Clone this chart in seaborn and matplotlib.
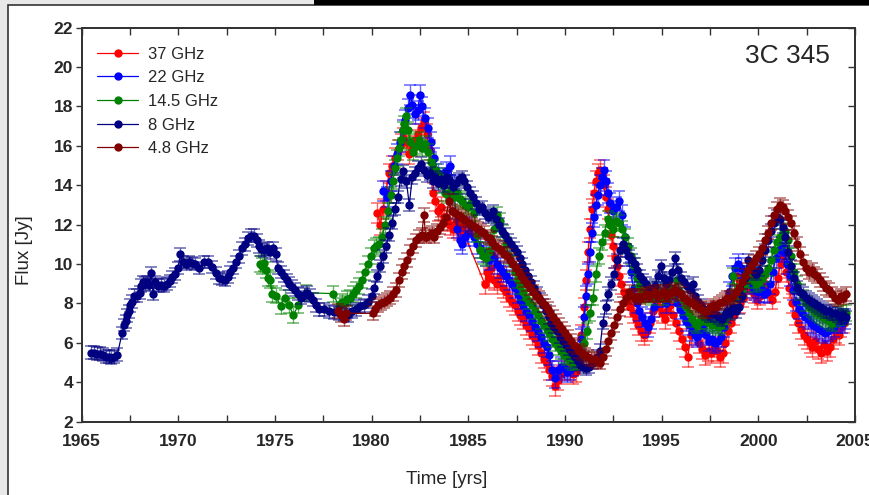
import matplotlib
matplotlib.use("Agg")
import matplotlib.pyplot as plt
from matplotlib.lines import Line2D
from matplotlib.patches import Rectangle
from matplotlib.ticker import MultipleLocator
import seaborn as sns

# ---- data ----
bands = ["37 GHz", "22 GHz", "14.5 GHz", "8 GHz", "4.8 GHz"]
colors = ["#ff0000", "#0000ff", "#008000", "#000080", "#800000"]
typical_err = [0.50, 0.50, 0.40, 0.32, 0.35]   # Jy

year_37 = [1980.30, 1980.45, 1980.60, 1980.75, 1980.90, 1981.05, 1981.20, 1981.35, 1981.50, 1981.65,
           1981.80, 1981.95, 1982.10, 1982.25, 1982.40, 1982.55, 1982.70, 1982.85, 1983.00, 1983.15,
           1983.30, 1983.45, 1983.60, 1983.75, 1983.90, 1984.05, 1984.20, 1984.35, 1984.50, 1984.65,
           1984.80, 1985.85, 1985.95, 1986.05, 1986.20, 1986.35, 1986.50, 1986.65, 1986.80, 1986.95,
           1987.10, 1987.25, 1987.40, 1987.55, 1987.70, 1987.85, 1988.00, 1988.15, 1988.30, 1988.45,
           1988.60, 1988.75, 1988.90, 1989.05, 1989.20, 1989.35, 1989.50, 1989.65, 1989.80, 1989.95,
           1990.10, 1990.25, 1990.40, 1990.55, 1990.70, 1990.85, 1991.00, 1991.10, 1991.20, 1991.30,
           1991.40, 1991.50, 1991.60, 1991.70, 1991.80, 1991.90, 1992.00, 1992.10, 1992.20, 1992.30,
           1992.40, 1992.50, 1992.60, 1992.70, 1992.80, 1992.90, 1993.05, 1993.20, 1993.35, 1993.50,
           1993.65, 1993.80, 1993.95, 1994.10, 1994.25, 1994.40, 1994.55, 1994.70, 1994.85, 1995.00,
           1995.15, 1995.30, 1995.45, 1995.60, 1995.75, 1995.90, 1996.05, 1996.20, 1996.35, 1996.50,
           1996.65, 1996.80, 1996.95, 1997.10, 1997.25, 1997.40, 1997.55, 1997.70, 1997.85, 1998.00,
           1998.15, 1998.30, 1998.45, 1998.60, 1998.75, 1998.90, 1999.05, 1999.20, 1999.35, 1999.50,
           1999.65, 1999.80, 1999.95, 2000.10, 2000.25, 2000.40, 2000.55, 2000.70, 2000.85, 2001.00,
           2001.15, 2001.30, 2001.45, 2001.60, 2001.75, 2001.90, 2002.05, 2002.20, 2002.35, 2002.50,
           2002.65, 2002.80, 2002.95, 2003.10, 2003.25, 2003.40, 2003.55, 2003.70, 2003.85, 2004.00,
           2004.15, 2004.30, 2004.45]
flux_37 = [12.6, 12.0, 12.8, 13.7, 14.6, 15.0, 15.4, 15.8, 16.1, 16.4,
           16.2, 15.6, 16.0, 16.3, 16.6, 16.9, 17.2, 16.6, 15.8, 13.6,
           13.2, 12.7, 12.9, 12.4, 12.2, 12.0, 11.8, 12.1, 11.7, 11.9,
           11.5, 9.0, 9.6, 9.3, 9.8, 9.2, 9.0, 9.4, 8.8, 8.6,
           8.3, 8.1, 7.9, 7.6, 7.4, 7.2, 6.9, 6.7, 6.4, 6.2,
           5.9, 5.5, 5.2, 5.0, 4.6, 4.3, 3.8, 4.1, 4.4, 4.6,
           4.8, 4.6, 4.4, 4.5, 5.2, 6.4, 7.8, 9.2, 10.6, 11.8,
           12.8, 13.6, 14.2, 14.6, 14.8, 14.4, 14.0, 13.4, 12.8, 12.2,
           11.5, 10.9, 10.3, 9.9, 9.4, 9.0, 8.6, 8.2, 7.8, 7.5,
           7.2, 6.9, 6.6, 6.4, 6.6, 7.0, 7.6, 8.1, 7.8, 7.5,
           7.2, 7.6, 7.9, 7.4, 7.0, 6.6, 6.2, 5.8, 5.3, 6.4,
           6.8, 6.5, 6.0, 5.7, 5.4, 5.6, 5.5, 5.8, 5.6, 5.3,
           5.5, 6.0, 6.6, 7.0, 7.4, 9.4, 8.0, 8.3, 8.7, 9.0,
           8.8, 8.5, 8.2, 8.4, 8.8, 9.0, 8.5, 8.2, 8.6, 9.3,
           10.0, 10.4, 9.6, 8.8, 8.0, 7.4, 7.0, 6.7, 6.4, 6.2,
           6.0, 5.8, 6.1, 5.7, 5.5, 5.9, 5.6, 5.8, 6.2, 6.5,
           6.4, 6.8, 7.0]

year_22 = [1980.60, 1980.80, 1981.00, 1981.15, 1981.30, 1981.45, 1981.60, 1981.75, 1981.90, 1982.00,
           1982.10, 1982.25, 1982.40, 1982.50, 1982.60, 1982.75, 1982.90, 1983.05, 1983.25, 1983.45,
           1983.65, 1983.85, 1984.05, 1984.25, 1984.40, 1984.55, 1984.70, 1984.85, 1985.00, 1985.15,
           1985.30, 1985.45, 1985.60, 1985.75, 1985.90, 1986.05, 1986.20, 1986.35, 1986.50, 1986.65,
           1986.80, 1986.95, 1987.10, 1987.25, 1987.40, 1987.55, 1987.70, 1987.85, 1988.00, 1988.15,
           1988.30, 1988.45, 1988.60, 1988.75, 1988.90, 1989.05, 1989.20, 1989.35, 1989.50, 1989.65,
           1989.80, 1989.95, 1990.10, 1990.25, 1990.40, 1990.55, 1990.70, 1990.85, 1991.00, 1991.10,
           1991.20, 1991.30, 1991.40, 1991.50, 1991.60, 1991.70, 1991.80, 1991.90, 1992.00, 1992.10,
           1992.20, 1992.35, 1992.50, 1992.65, 1992.80, 1992.95, 1993.10, 1993.25, 1993.40, 1993.55,
           1993.70, 1993.85, 1994.00, 1994.15, 1994.30, 1994.45, 1994.60, 1994.75, 1994.90, 1995.05,
           1995.20, 1995.35, 1995.50, 1995.65, 1995.80, 1995.95, 1996.10, 1996.25, 1996.40, 1996.55,
           1996.70, 1996.85, 1997.00, 1997.15, 1997.30, 1997.45, 1997.60, 1997.75, 1997.90, 1998.05,
           1998.20, 1998.35, 1998.50, 1998.65, 1998.80, 1998.95, 1999.10, 1999.25, 1999.40, 1999.55,
           1999.70, 1999.85, 2000.00, 2000.15, 2000.30, 2000.45, 2000.60, 2000.75, 2000.90, 2001.05,
           2001.20, 2001.35, 2001.50, 2001.65, 2001.80, 2001.95, 2002.10, 2002.25, 2002.40, 2002.55,
           2002.70, 2002.85, 2003.00, 2003.15, 2003.30, 2003.45, 2003.60, 2003.75, 2003.90, 2004.05,
           2004.20, 2004.35, 2004.50]
flux_22 = [13.7, 13.4, 14.2, 15.0, 15.6, 16.2, 16.8, 17.3, 17.9, 18.6,
           18.1, 17.6, 17.8, 18.6, 18.0, 17.4, 16.9, 16.2, 15.4, 14.6,
           14.4, 14.7, 15.0, 14.0, 11.8, 11.2, 11.0, 11.4, 11.6, 11.9,
           11.4, 11.0, 10.8, 10.6, 10.4, 10.2, 10.5, 10.3, 10.0, 9.8,
           9.6, 9.4, 9.2, 9.0, 8.8, 8.5, 8.2, 7.9, 7.6, 7.4,
           7.1, 6.8, 6.6, 6.3, 6.0, 5.8, 5.4, 4.6, 4.2, 4.6,
           4.8, 4.7, 4.5, 4.6, 4.8, 5.1, 5.4, 6.2, 7.3, 8.4,
           9.5, 10.6, 11.6, 12.4, 13.0, 13.5, 14.0, 14.4, 14.8, 14.2,
           13.6, 13.1, 12.7, 12.9, 13.2, 12.5, 11.4, 10.4, 9.6, 8.8,
           8.0, 7.6, 7.3, 7.0, 6.8, 7.2, 7.8, 8.3, 8.6, 8.3,
           8.0, 8.4, 8.7, 8.4, 8.0, 7.7, 7.4, 7.1, 6.9, 6.6,
           6.4, 6.3, 6.5, 6.8, 6.4, 6.1, 6.2, 6.0, 6.1, 6.3,
           6.8, 7.5, 8.6, 9.4, 9.8, 10.0, 9.8, 9.4, 9.1, 9.0,
           8.8, 8.7, 8.6, 8.8, 8.5, 8.6, 9.0, 9.6, 10.3, 10.7,
           10.9, 10.6, 10.0, 9.4, 8.7, 8.1, 7.7, 7.5, 7.3, 7.2,
           7.0, 6.9, 6.8, 6.7, 6.6, 6.5, 6.6, 6.7, 6.8, 7.0,
           7.1, 7.0, 7.2]

year_14 = [1974.25, 1974.35, 1974.45, 1974.55, 1974.65, 1974.75, 1974.85, 1975.05, 1975.30, 1975.50,
           1975.75, 1975.95, 1976.20, 1976.60, 1978.00, 1978.30, 1978.45, 1978.60, 1978.75, 1978.90,
           1979.05, 1979.20, 1979.35, 1979.50, 1979.65, 1979.80, 1979.95, 1980.10, 1980.25, 1980.40,
           1980.55, 1980.70, 1980.85, 1981.00, 1981.10, 1981.20, 1981.30, 1981.40, 1981.50, 1981.60,
           1981.70, 1981.80, 1981.90, 1982.00, 1982.15, 1982.30, 1982.45, 1982.60, 1982.75, 1982.90,
           1983.05, 1983.20, 1983.35, 1983.50, 1983.65, 1983.80, 1983.95, 1984.10, 1984.25, 1984.40,
           1984.55, 1984.70, 1984.85, 1985.00, 1985.15, 1985.30, 1985.45, 1985.60, 1985.75, 1985.90,
           1986.05, 1986.20, 1986.35, 1986.50, 1986.65, 1986.80, 1986.95, 1987.10, 1987.25, 1987.40,
           1987.55, 1987.70, 1987.85, 1988.00, 1988.15, 1988.30, 1988.45, 1988.60, 1988.75, 1988.90,
           1989.05, 1989.20, 1989.35, 1989.50, 1989.65, 1989.80, 1989.95, 1990.10, 1990.25, 1990.40,
           1990.55, 1990.70, 1990.85, 1991.00, 1991.15, 1991.30, 1991.45, 1991.60, 1991.75, 1991.90,
           1992.05, 1992.20, 1992.35, 1992.50, 1992.65, 1992.80, 1992.95, 1993.10, 1993.25, 1993.40,
           1993.55, 1993.70, 1993.85, 1994.00, 1994.15, 1994.30, 1994.45, 1994.60, 1994.75, 1994.90,
           1995.05, 1995.20, 1995.35, 1995.50, 1995.65, 1995.80, 1995.95, 1996.10, 1996.25, 1996.40,
           1996.55, 1996.70, 1996.85, 1997.00, 1997.15, 1997.30, 1997.45, 1997.60, 1997.75, 1997.90,
           1998.05, 1998.20, 1998.35, 1998.50, 1998.70, 1998.85, 1999.00, 1999.15, 1999.30, 1999.45,
           1999.60, 1999.75, 1999.90, 2000.05, 2000.20, 2000.35, 2000.50, 2000.65, 2000.80, 2000.95,
           2001.10, 2001.25, 2001.40, 2001.55, 2001.70, 2001.85, 2002.00, 2002.15, 2002.30, 2002.45,
           2002.60, 2002.75, 2002.90, 2003.05, 2003.20, 2003.35, 2003.50, 2003.65, 2003.80, 2003.95,
           2004.10, 2004.25, 2004.40, 2004.55]
flux_14 = [10.0, 9.9, 10.05, 9.7, 9.3, 9.2, 8.5, 8.4, 7.85, 8.3,
           7.9, 7.4, 7.9, 8.55, 8.5, 7.9, 8.1, 8.0, 8.25, 8.3,
           8.5, 8.7, 8.9, 9.2, 9.6, 10.0, 10.4, 10.8, 10.9, 11.0,
           11.4, 12.0, 12.7, 13.5, 14.2, 14.9, 15.4, 15.9, 16.3, 16.8,
           17.1, 17.5, 16.8, 16.2, 15.7, 16.0, 16.3, 15.9, 16.1, 15.7,
           15.2, 14.9, 14.7, 14.5, 14.0, 13.6, 13.5, 13.8, 13.4, 13.6,
           13.3, 13.2, 13.0, 12.9, 13.1, 12.6, 11.5, 10.7, 10.4, 10.3,
           10.6, 11.2, 11.8, 12.5, 12.2, 11.6, 11.0, 10.4, 10.0, 9.6,
           9.2, 8.9, 8.6, 8.3, 8.1, 7.9, 7.6, 7.4, 7.1, 6.9,
           6.7, 6.5, 6.2, 6.0, 5.8, 5.6, 5.4, 5.3, 5.1, 5.0,
           5.0, 5.1, 5.5, 6.0, 6.6, 7.5, 8.3, 9.5, 10.4, 11.1,
           11.6, 12.3, 12.0, 11.8, 12.2, 12.1, 11.8, 11.4, 10.9, 10.4,
           9.9, 9.3, 8.9, 8.6, 8.4, 8.5, 8.3, 8.5, 8.7, 8.5,
           8.3, 8.6, 8.9, 8.5, 8.7, 9.2, 8.6, 8.2, 7.8, 7.5,
           7.2, 7.0, 6.9, 7.1, 7.3, 7.1, 7.0, 6.9, 7.0, 6.8,
           6.9, 7.1, 7.3, 7.6, 9.4, 8.3, 8.6, 8.8, 9.0, 9.2,
           9.4, 9.2, 9.0, 9.1, 9.3, 9.5, 9.8, 10.2, 10.7, 11.1,
           11.4, 11.6, 11.7, 11.2, 10.4, 9.6, 9.0, 8.6, 8.3, 8.0,
           7.8, 7.7, 7.6, 7.5, 7.4, 7.3, 7.2, 7.1, 7.0, 7.2,
           7.4, 7.5, 7.3, 7.5]

year_8 = [1965.50, 1965.65, 1965.80, 1965.95, 1966.10, 1966.25, 1966.40, 1966.55, 1966.70, 1966.85,
          1967.10, 1967.20, 1967.28, 1967.36, 1967.44, 1967.52, 1967.60, 1967.70, 1967.85, 1968.00,
          1968.10, 1968.20, 1968.30, 1968.40, 1968.50, 1968.60, 1968.70, 1968.80, 1968.95, 1969.10,
          1969.25, 1969.40, 1969.55, 1969.70, 1969.85, 1970.00, 1970.10, 1970.25, 1970.40, 1970.55,
          1970.70, 1970.85, 1971.10, 1971.35, 1971.55, 1971.75, 1971.95, 1972.10, 1972.25, 1972.40,
          1972.55, 1972.70, 1972.85, 1973.00, 1973.15, 1973.30, 1973.45, 1973.60, 1973.75, 1973.90,
          1974.10, 1974.20, 1974.30, 1974.45, 1974.60, 1974.75, 1974.90, 1975.05, 1975.15, 1975.30,
          1975.45, 1975.60, 1975.75, 1975.90, 1976.05, 1976.20, 1976.35, 1976.50, 1976.65, 1976.80,
          1976.95, 1977.10, 1977.30, 1977.55, 1977.80, 1978.05, 1978.30, 1978.55, 1978.80, 1979.00,
          1979.20, 1979.40, 1979.60, 1979.80, 1980.00, 1980.15, 1980.30, 1980.45, 1980.60, 1980.75,
          1980.90, 1981.05, 1981.20, 1981.35, 1981.50, 1981.65, 1981.80, 1981.95, 1982.10, 1982.25,
          1982.40, 1982.55, 1982.70, 1982.85, 1983.00, 1983.15, 1983.30, 1983.45, 1983.60, 1983.75,
          1983.90, 1984.05, 1984.20, 1984.35, 1984.50, 1984.65, 1984.80, 1984.95, 1985.10, 1985.25,
          1985.40, 1985.55, 1985.70, 1985.85, 1986.00, 1986.15, 1986.30, 1986.45, 1986.60, 1986.75,
          1986.90, 1987.05, 1987.20, 1987.35, 1987.50, 1987.65, 1987.80, 1987.95, 1988.10, 1988.25,
          1988.40, 1988.55, 1988.70, 1988.85, 1989.00, 1989.15, 1989.30, 1989.45, 1989.60, 1989.75,
          1989.90, 1990.05, 1990.20, 1990.35, 1990.50, 1990.65, 1990.80, 1990.95, 1991.10, 1991.25,
          1991.45, 1991.65, 1991.80, 1991.95, 1992.10, 1992.25, 1992.40, 1992.55, 1992.70, 1992.85,
          1993.00, 1993.15, 1993.30, 1993.45, 1993.60, 1993.75, 1993.90, 1994.05, 1994.20, 1994.35,
          1994.50, 1994.65, 1994.80, 1994.95, 1995.10, 1995.25, 1995.40, 1995.55, 1995.70, 1995.85,
          1996.00, 1996.15, 1996.30, 1996.45, 1996.60, 1996.75, 1996.90, 1997.05, 1997.20, 1997.35,
          1997.50, 1997.65, 1997.80, 1997.95, 1998.10, 1998.25, 1998.40, 1998.55, 1998.70, 1998.85,
          1999.00, 1999.15, 1999.30, 1999.45, 1999.60, 1999.75, 1999.90, 2000.05, 2000.20, 2000.35,
          2000.50, 2000.65, 2000.80, 2000.95, 2001.10, 2001.25, 2001.40, 2001.55, 2001.70, 2001.85,
          2002.00, 2002.15, 2002.30, 2002.45, 2002.60, 2002.75, 2002.90, 2003.05, 2003.20, 2003.35,
          2003.50, 2003.65, 2003.80, 2003.95, 2004.10, 2004.25, 2004.40, 2004.55]
flux_8 = [5.50, 5.50, 5.45, 5.45, 5.40, 5.30, 5.30, 5.25, 5.30, 5.40,
          6.50, 6.90, 7.10, 7.40, 7.60, 7.90, 8.10, 8.40, 8.40, 8.55,
          8.90, 9.10, 9.00, 9.10, 8.95, 9.55, 8.50, 9.10, 8.90, 8.95,
          8.90, 9.00, 9.15, 9.35, 9.50, 9.80, 10.50, 10.10, 10.00, 10.10,
          10.05, 10.00, 9.80, 10.10, 10.10, 9.85, 9.55, 9.30, 9.25, 9.20,
          9.35, 9.60, 9.80, 10.10, 10.40, 10.80, 11.00, 11.30, 11.45, 11.45,
          11.20, 10.90, 10.75, 10.70, 10.80, 10.60, 10.80, 10.50, 9.80, 9.60,
          9.40, 9.20, 9.00, 8.85, 8.70, 8.50, 8.30, 8.45, 8.55, 8.40,
          8.20, 7.90, 7.70, 7.70, 7.60, 7.55, 7.50, 7.45, 7.40, 7.60,
          7.70, 7.85, 7.90, 8.10, 8.40, 8.80, 9.40, 9.90, 10.40, 10.90,
          11.50, 12.10, 12.80, 13.40, 14.30, 14.70, 14.20, 13.00, 14.40, 14.60,
          14.90, 15.10, 14.80, 14.50, 14.60, 14.20, 14.40, 14.10, 14.30, 14.00,
          14.40, 14.20, 13.90, 14.10, 14.30, 14.40, 14.20, 13.90, 13.60, 13.40,
          13.10, 12.80, 12.90, 12.60, 12.40, 12.50, 12.70, 12.30, 12.00, 11.70,
          11.50, 11.20, 11.00, 10.80, 10.60, 10.30, 10.00, 9.70, 9.40, 9.10,
          8.80, 8.50, 8.20, 7.90, 7.60, 7.30, 7.00, 6.80, 6.60, 6.30,
          6.10, 5.90, 5.70, 5.50, 5.30, 5.10, 4.90, 4.80, 4.70, 4.80,
          5.00, 5.30, 5.60, 7.00, 7.80, 8.50, 9.00, 9.50, 10.20, 10.70,
          11.00, 10.70, 10.40, 10.20, 10.00, 9.70, 9.40, 9.20, 9.00, 8.80,
          8.70, 8.90, 9.40, 9.90, 9.30, 9.00, 9.20, 9.60, 10.30, 9.70,
          9.30, 9.10, 8.90, 8.70, 9.00, 8.40, 8.10, 7.90, 7.70, 7.50,
          7.40, 7.50, 7.40, 7.30, 7.20, 7.40, 7.60, 7.50, 7.80, 7.60,
          7.80, 8.40, 9.30, 10.20, 9.90, 9.60, 9.50, 9.70, 10.20, 10.70,
          11.20, 11.70, 12.10, 12.40, 12.30, 11.90, 11.40, 10.60, 9.90, 9.30,
          8.80, 8.60, 8.50, 8.30, 8.20, 8.10, 8.00, 7.90, 7.80, 7.70,
          7.60, 7.60, 7.50, 7.50, 7.40, 7.30, 7.40, 7.30]

year_48 = [1978.25, 1978.40, 1978.55, 1978.70, 1980.05, 1980.20, 1980.35, 1980.50, 1980.65, 1980.80,
           1980.95, 1981.10, 1981.25, 1981.40, 1981.55, 1981.70, 1981.85, 1982.00, 1982.15, 1982.30,
           1982.45, 1982.60, 1982.70, 1982.80, 1982.95, 1983.10, 1983.25, 1983.40, 1983.55, 1983.70,
           1983.85, 1984.00, 1984.15, 1984.30, 1984.45, 1984.60, 1984.75, 1984.90, 1985.05, 1985.20,
           1985.35, 1985.50, 1985.65, 1985.80, 1985.95, 1986.10, 1986.25, 1986.40, 1986.55, 1986.70,
           1986.85, 1987.00, 1987.15, 1987.30, 1987.45, 1987.60, 1987.75, 1987.90, 1988.05, 1988.20,
           1988.35, 1988.50, 1988.65, 1988.80, 1988.95, 1989.10, 1989.25, 1989.40, 1989.55, 1989.70,
           1989.85, 1990.00, 1990.15, 1990.30, 1990.45, 1990.60, 1990.75, 1990.90, 1991.05, 1991.20,
           1991.35, 1991.50, 1991.65, 1991.80, 1991.95, 1992.10, 1992.25, 1992.40, 1992.55, 1992.70,
           1992.85, 1993.00, 1993.15, 1993.30, 1993.45, 1993.60, 1993.75, 1993.90, 1994.05, 1994.20,
           1994.35, 1994.50, 1994.65, 1994.80, 1994.95, 1995.10, 1995.25, 1995.40, 1995.55, 1995.70,
           1995.85, 1996.00, 1996.15, 1996.30, 1996.45, 1996.60, 1996.75, 1996.90, 1997.05, 1997.20,
           1997.35, 1997.50, 1997.65, 1997.80, 1997.95, 1998.10, 1998.25, 1998.40, 1998.55, 1998.70,
           1998.85, 1999.00, 1999.15, 1999.30, 1999.45, 1999.60, 1999.75, 1999.90, 2000.05, 2000.20,
           2000.35, 2000.50, 2000.65, 2000.80, 2000.95, 2001.10, 2001.25, 2001.40, 2001.55, 2001.70,
           2001.85, 2002.00, 2002.15, 2002.30, 2002.45, 2002.60, 2002.75, 2002.90, 2003.05, 2003.20,
           2003.35, 2003.50, 2003.65, 2003.80, 2003.95, 2004.10, 2004.25, 2004.40, 2004.55]
flux_48 = [7.6, 7.4, 7.2, 7.5, 7.5, 7.7, 7.9, 8.0, 8.1, 8.2,
           8.3, 8.5, 8.7, 9.2, 9.6, 9.9, 10.2, 10.6, 10.9, 11.2,
           11.4, 11.5, 12.5, 11.4, 11.5, 11.6, 11.4, 11.7, 11.9, 12.1,
           12.4, 13.2, 12.7, 12.6, 12.5, 12.4, 12.3, 12.2, 12.1, 12.0,
           11.9, 11.8, 11.7, 11.6, 11.4, 11.3, 11.1, 10.9, 10.8, 10.7,
           10.5, 10.4, 10.2, 10.0, 9.8, 9.6, 9.4, 9.2, 9.0, 8.8,
           8.6, 8.4, 8.3, 8.1, 7.9, 7.7, 7.5, 7.3, 7.1, 6.9,
           6.7, 6.5, 6.3, 6.1, 5.9, 5.8, 5.6, 5.5, 5.4, 5.3,
           5.2, 5.2, 5.1, 5.0, 5.3, 5.7, 6.1, 6.5, 6.9, 7.3,
           7.7, 8.0, 8.3, 8.6, 8.4, 8.3, 8.4, 8.3, 8.4, 8.5,
           8.4, 8.5, 8.6, 8.4, 8.5, 8.6, 8.4, 8.5, 8.6, 8.7,
           8.6, 8.5, 8.3, 8.2, 8.1, 8.0, 7.9, 7.8, 7.7, 7.6,
           7.6, 7.8, 7.9, 7.8, 8.0, 8.1, 8.2, 8.3, 8.3, 8.4,
           8.6, 8.8, 9.1, 9.4, 9.7, 9.9, 10.1, 10.3, 10.5, 10.8,
           11.2, 11.6, 12.1, 12.5, 12.8, 13.0, 12.9, 12.7, 12.4, 12.1,
           11.6, 11.0, 10.5, 10.1, 9.8, 9.6, 9.7, 9.5, 9.4, 9.2,
           9.0, 8.8, 8.7, 8.5, 8.3, 8.2, 8.4, 8.3, 8.5]

series_years = [year_37, year_22, year_14, year_8, year_48]
series_flux = [flux_37, flux_22, flux_14, flux_8, flux_48]

# ---- figure ----
sns.set_style("white")
plt.rcParams["font.family"] = ["Liberation Sans", "DejaVu Sans"]

fig = plt.figure(figsize=(8.7, 4.95), dpi=100)
fig.patch.set_facecolor("#e8e8e8")
# white page panel with dark border, black strip at the top right
fig.add_artist(Rectangle((8 / 870, -0.01), 1.0, 1 - 5.5 / 495 + 0.01, transform=fig.transFigure,
                         facecolor="white", edgecolor="#333333", linewidth=1.2, zorder=-2))
fig.add_artist(Rectangle((314 / 870, 1 - 5 / 495), 1.0, 5 / 495, transform=fig.transFigure,
                         facecolor="black", edgecolor="none", zorder=-1))

ax = fig.add_axes([0.0937, 0.1481, 0.8891, 0.7960])

for band, col, err, yrs, fl in zip(bands, colors, typical_err, series_years, series_flux):
    ax.errorbar(yrs, fl, yerr=err, fmt="none", ecolor=col, elinewidth=1.0,
                capsize=4.3, capthick=1.1, alpha=0.6)
    sns.lineplot(x=yrs, y=fl, ax=ax, color=col, marker="o", markersize=6,
                 markeredgewidth=0, linewidth=0.9, estimator=None, sort=False, legend=False)

ax.set_xlim(1965, 2005)
ax.set_ylim(2, 22)
ax.xaxis.set_major_locator(MultipleLocator(5))
ax.xaxis.set_minor_locator(MultipleLocator(2.5))
ax.yaxis.set_major_locator(MultipleLocator(2))
ax.set_xlabel("")
ax.set_ylabel("")

ax.tick_params(axis="x", which="both", direction="in", top=True, bottom=True,
               length=5, width=1, color="#333333", pad=9, labelsize=12.5)
ax.tick_params(axis="y", which="both", direction="out", left=True, right=False,
               length=4, width=1, color="#333333", pad=2, labelsize=12.5)
for lab in ax.get_xticklabels() + ax.get_yticklabels():
    lab.set_fontweight("bold")

# inward ticks on the right side
ax_r = ax.twinx()
ax_r.set_ylim(2, 22)
ax_r.yaxis.set_major_locator(MultipleLocator(2))
ax_r.tick_params(axis="y", direction="in", length=5, width=1, color="#333333", labelright=False)
ax_r.grid(False)

for a in (ax, ax_r):
    for sp in a.spines.values():
        sp.set_color("#333333")
        sp.set_linewidth(1.3)

handles = [Line2D([], [], color=c, marker="o", markersize=6, markeredgewidth=0, linewidth=0.9)
           for c in colors]
ax.legend(handles, bands, loc="upper left", bbox_to_anchor=(0.0197, 0.952), frameon=False,
          fontsize=12, handlelength=2.5, handletextpad=0.55, labelspacing=0.52,
          borderpad=0, borderaxespad=0)

ax.text(0.968, 0.927, "3C 345", transform=ax.transAxes, ha="right", va="center", fontsize=19)

fig.text(25 / 870, 1 - 250 / 495, "Flux [Jy]", rotation=90, ha="center", va="center", fontsize=13.5)
fig.text(447 / 870, 1 - 480 / 495, "Time [yrs]", ha="center", va="center", fontsize=13.5)

fig.savefig("out.png", dpi=100, facecolor=fig.get_facecolor())
